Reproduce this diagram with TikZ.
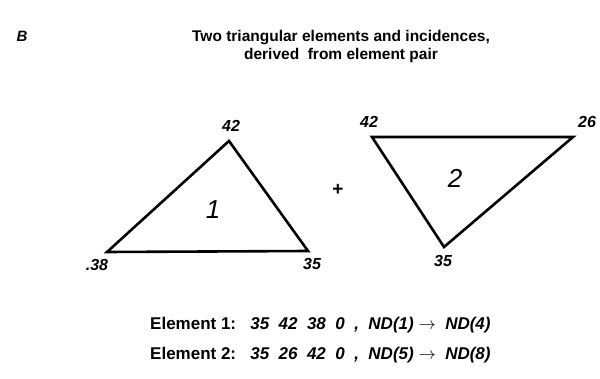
\documentclass[tikz,border=0pt]{standalone}
\usepackage{fontspec}
\setmainfont{Liberation Sans}
\begin{document}
\begin{tikzpicture}[x=1pt,y=-1pt,
  tri/.style={line width=2.6pt,line join=miter},
  vlab/.style={font=\fontsize{16}{16}\selectfont\bfseries\itshape,inner sep=0pt},
  elab/.style={font=\fontsize{26}{26}\selectfont\itshape,inner sep=0pt},
  ttl/.style={font=\fontsize{15.5}{18}\selectfont\bfseries,inner sep=0pt,align=center},
  row/.style={font=\fontsize{17}{18}\selectfont\bfseries,inner sep=0pt,anchor=west}]
\useasboundingbox (0,0) rectangle (600,379);
\node[font=\fontsize{15}{15}\selectfont\bfseries\itshape,inner sep=0pt] (B) at (22,36) {B};
\node[ttl] (title) at (341,46) {Two triangular elements and incidences,\\derived\ \ from element pair};
% triangle 1
\coordinate (a42) at (229,141);
\coordinate (a38) at (107,252);
\coordinate (a35) at (308,251);
\draw[tri] (a38) -- (a42) -- (a35) -- cycle;
\node[vlab] (l42a) at (231,126) {42};
\node[vlab] (l38a) at (97,265) {.38};
\node[vlab] (l35a) at (312,264) {35};
\node[elab] (n1) at (213,210) {1};
\node[font=\fontsize{19}{19}\selectfont\bfseries,inner sep=0pt] (plus) at (338,190) {+};
% triangle 2
\coordinate (b42) at (372,137);
\coordinate (b26) at (573,137);
\coordinate (b35) at (444,247);
\draw[tri] (b42) -- (b26) -- (b35) -- cycle;
\node[vlab] (l42b) at (369,122) {42};
\node[vlab] (l26b) at (587,122) {26};
\node[vlab] (l35b) at (443,261) {35};
\node[elab] (n2) at (455,178) {2};
% rows
\node[row] (r1) at (150,325) {Element 1:\ \ \ \textit{35\ \ 42\ \ 38\ \ 0\ \ ,\ \ ND(1)\ $\rightarrow$\ \ ND(4)}};
\node[row] (r2) at (150,355) {Element 2:\ \ \ \textit{35\ \ 26\ \ 42\ \ 0\ \ ,\ \ ND(5)\ $\rightarrow$\ \ ND(8)}};
\end{tikzpicture}
\end{document}
